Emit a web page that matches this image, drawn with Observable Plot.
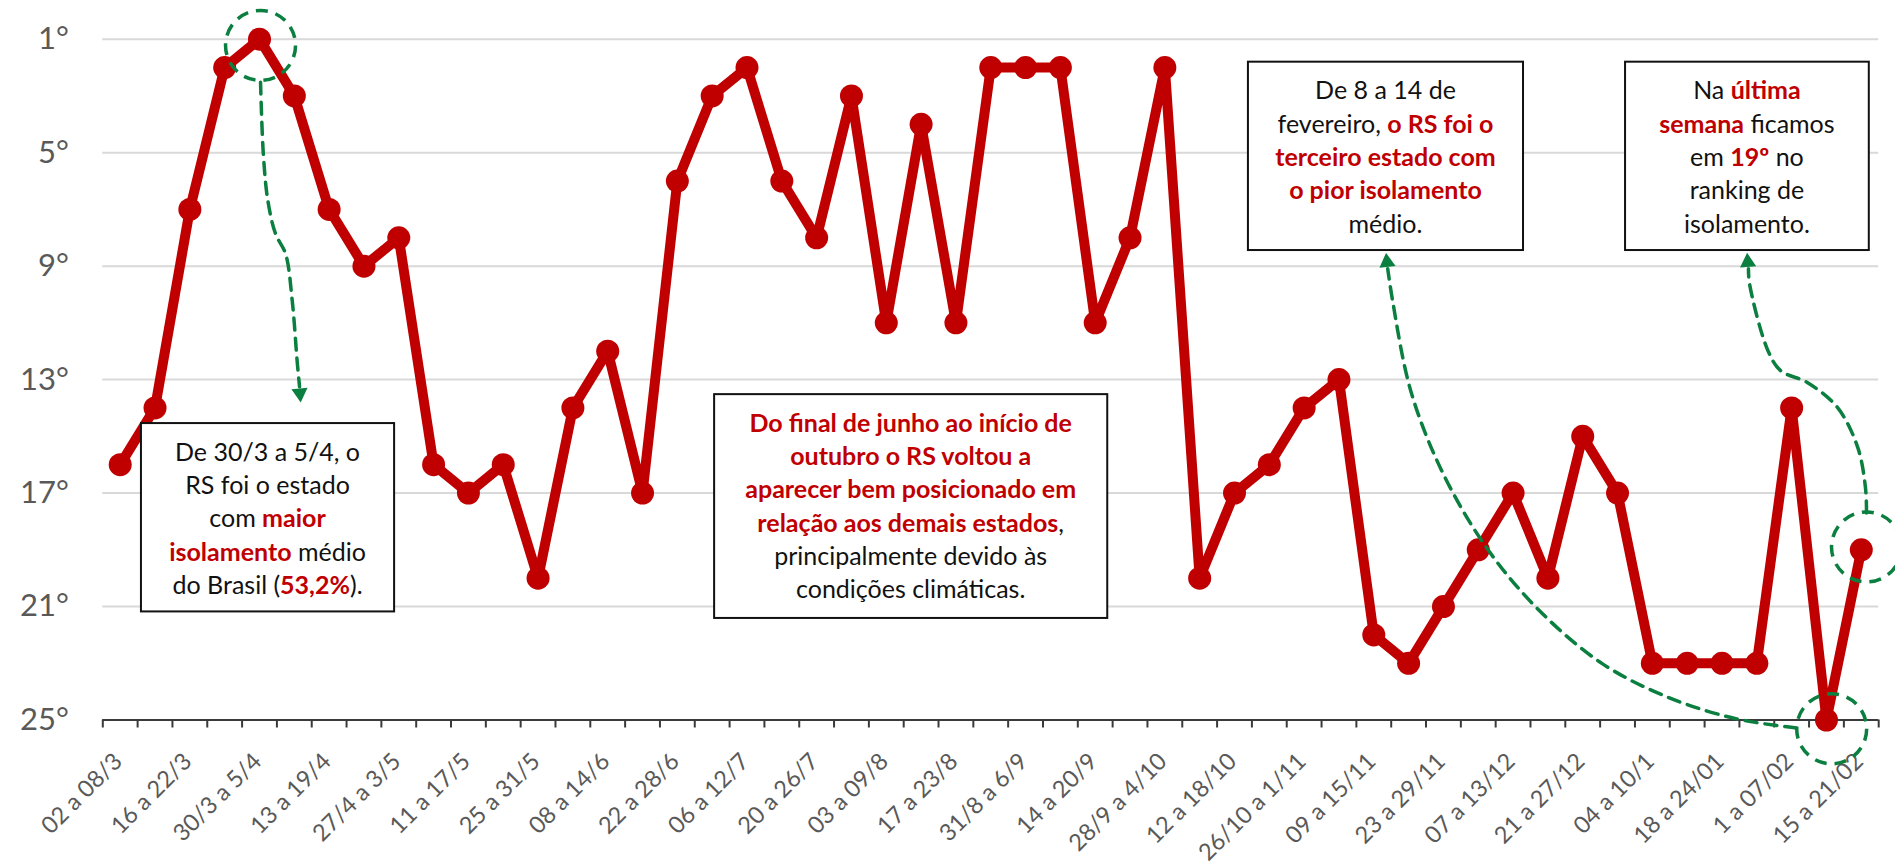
<!DOCTYPE html>
<html>
<head>
<meta charset="utf-8">
<script src="https://cdn.jsdelivr.net/npm/d3@7"></script>
<script src="https://cdn.jsdelivr.net/npm/@observablehq/plot@0.6"></script>
<style>
  html, body { margin: 0; padding: 0; background: #fff; }
  #chart svg { display: block; }
</style>
</head>
<body>
<div id="chart"></div>
<script>
// ---- data ----
const weeks = [
  "02 a 08/3", "09 a 15/3", "16 a 22/3", "23 a 29/3", "30/3 a 5/4", "06 a 12/4",
  "13 a 19/4", "20 a 26/4", "27/4 a 3/5", "04 a 10/5", "11 a 17/5", "18 a 24/5",
  "25 a 31/5", "01 a 07/6", "08 a 14/6", "15 a 21/6", "22 a 28/6", "29/6 a 5/7",
  "06 a 12/7", "13 a 19/7", "20 a 26/7", "27/7 a 2/8", "03 a 09/8", "10 a 16/8",
  "17 a 23/8", "24 a 30/8", "31/8 a 6/9", "07 a 13/9", "14 a 20/9", "21 a 27/9",
  "28/9 a 4/10", "05 a 11/10", "12 a 18/10", "19 a 25/10", "26/10 a 1/11", "02 a 08/11",
  "09 a 15/11", "16 a 22/11", "23 a 29/11", "30/11 a 6/12", "07 a 13/12", "14 a 20/12",
  "21 a 27/12", "28/12 a 3/1", "04 a 10/1", "11 a 17/1", "18 a 24/01", "25/01 a 31/01",
  "1 a 07/02", "08 a 14/02", "15 a 21/02"
];
const ranks = [
  16, 14, 7, 2, 1, 3, 7, 9, 8, 16, 17, 16, 20, 14, 12, 17, 6, 3, 2, 6, 8, 3, 11, 4, 11,
  2, 2, 2, 11, 8, 2, 20, 17, 16, 14, 13, 22, 23, 21, 19, 17, 20, 15, 17, 23, 23, 23, 23,
  14, 25, 19
];
const yTicks = [1, 5, 9, 13, 17, 21, 25];
const labeledWeeks = weeks.filter((w, i) => i % 2 === 0);

// ---- annotation anchors (in data units: week index, rank) ----
const circles = [
  {x: 4.03, y: 1.22},
  {x: 49.15, y: 25.31},
  {x: 50.15, y: 18.90}
];
const arrowLines = [
  {id: "a", x: 4.03, y: 2.52}, {id: "a", x: 4.11, y: 5.04}, {id: "a", x: 4.24, y: 6.69},
  {id: "a", x: 4.46, y: 7.86}, {id: "a", x: 4.75, y: 8.57}, {id: "a", x: 4.94, y: 10.22},
  {id: "a", x: 5.08, y: 12.33}, {id: "a", x: 5.15, y: 13.25},
  {id: "b", x: 48.14, y: 25.28}, {id: "b", x: 46.42, y: 24.96}, {id: "b", x: 44.49, y: 24.22},
  {id: "b", x: 42.57, y: 23.02}, {id: "b", x: 40.76, y: 21.15}, {id: "b", x: 39.24, y: 18.93},
  {id: "b", x: 37.95, y: 16.21}, {id: "b", x: 37.06, y: 13.39}, {id: "b", x: 36.54, y: 10.22},
  {id: "b", x: 36.40, y: 9.09},
  {id: "c", x: 50.15, y: 17.70}, {id: "c", x: 50.12, y: 16.81}, {id: "c", x: 49.90, y: 15.40},
  {id: "c", x: 49.32, y: 13.99}, {id: "c", x: 48.46, y: 13.11}, {id: "c", x: 47.69, y: 12.69},
  {id: "c", x: 47.32, y: 11.98}, {id: "c", x: 46.79, y: 9.62}, {id: "c", x: 46.76, y: 9.09}
];
const arrowHeads = [
  {x: 5.16, y: 13.48, rotate: 175},
  {x: 36.38, y: 8.86, rotate: -6},
  {x: 46.74, y: 8.86, rotate: -4}
];
const boxes = [
  {x0: 0.61, x1: 7.88, y0: 14.55, y1: 21.19, lines: [
    [["De 30/3 a 5/4, o"]],
    [["RS foi o estado"]],
    [["com "], ["maior", 1]],
    [["isolamento", 1], [" médio"]],
    [["do Brasil ("], ["53,2%", 1], [")."]]
  ]},
  {x0: 17.07, x1: 28.36, y0: 13.53, y1: 21.42, lines: [
    [["Do final de junho ao início de", 1]],
    [["outubro o RS voltou a", 1]],
    [["aparecer bem posicionado em", 1]],
    [["relação aos demais estados", 1], [","]],
    [["principalmente devido às"]],
    [["condições climáticas."]]
  ]},
  {x0: 32.40, x1: 40.30, y0: 1.81, y1: 8.45, lines: [
    [["De 8 a 14 de"]],
    [["fevereiro, "], ["o RS foi o", 1]],
    [["terceiro estado com", 1]],
    [["o pior isolamento", 1]],
    [["médio."]]
  ]},
  {x0: 43.23, x1: 50.23, y0: 1.81, y1: 8.45, lines: [
    [["Na "], ["última", 1]],
    [["semana", 1], [" ficamos"]],
    [["em "], ["19º", 1], [" no"]],
    [["ranking de"]],
    [["isolamento."]]
  ]}
];

// ---- chart ----
const RED = "#C00000";
const GREEN = "#0a7f3f";
const GRAY = "#595959";
const series = weeks.map((w, i) => ({i, week: w, rank: ranks[i]}));

const chart = Plot.plot({
  width: 1895,
  height: 865,
  marginLeft: 102.3,
  marginRight: 16.8,
  marginTop: 38.7,
  marginBottom: 145.5,
  x: {domain: [-0.5, weeks.length - 0.5], axis: null},
  y: {domain: [1, 25], reverse: true, axis: null},
  style: {fontFamily: "Lato, 'Open Sans', sans-serif", background: "white", overflow: "visible"},
  marks: [
    Plot.ruleY(yTicks.filter(t => t < 25), {stroke: "#d9d9d9", strokeWidth: 2}),
    Plot.ruleY([25], {stroke: "#3a3a3a", strokeWidth: 2}),
    Plot.ruleX(d3.range(weeks.length + 1).map(k => k - 0.5), {y1: 25, y2: 25 + 8 / 28.35, stroke: "#3a3a3a", strokeWidth: 2}),
    Plot.text(yTicks, {x: -0.5, y: d => d, text: d => d + "°", textAnchor: "end", dx: -34, fontSize: 31, fill: GRAY}),
    Plot.text(labeledWeeks, {x: d => weeks.indexOf(d), y: 25, text: d => d, rotate: -45, textAnchor: "end", dx: -2, dy: 37.5, fontSize: 23.5, fill: GRAY}),
    Plot.line(series, {x: "i", y: "rank", stroke: RED, strokeWidth: 10, strokeLinejoin: "round"}),
    Plot.dot(series, {x: "i", y: "rank", r: 11.5, fill: RED}),
    Plot.dot(circles, {x: "x", y: "y", r: 35, stroke: GREEN, strokeWidth: 3.5, strokeDasharray: "12,8", fill: "none"}),
    Plot.line(arrowLines, {x: "x", y: "y", z: "id", curve: "catmull-rom", stroke: GREEN, strokeWidth: 3.5, strokeDasharray: "12,8"}),
    Plot.dot(arrowHeads, {x: "x", y: "y", rotate: "rotate", symbol: "triangle", r: 6, fill: GREEN, stroke: "none"})
  ]
});

// ---- text boxes, positioned through the plot scales ----
const X = chart.scale("x"), Y = chart.scale("y");
const svg = d3.select(chart);
const g = svg.append("g").attr("font-family", "Lato, 'Open Sans', sans-serif").attr("font-size", 25);
boxes.forEach(b => {
  const x0 = X.apply(b.x0), x1 = X.apply(b.x1), y0 = Y.apply(b.y0), y1 = Y.apply(b.y1);
  g.append("rect").attr("x", x0).attr("y", y0).attr("width", x1 - x0).attr("height", y1 - y0)
    .attr("fill", "white").attr("stroke", "#111").attr("stroke-width", 2);
  const cx = (x0 + x1) / 2;
  b.lines.forEach((runs, k) => {
    const t = g.append("text").attr("x", cx).attr("y", y0 + 28.7 + 33.3 * k + 9)
      .attr("text-anchor", "middle").style("white-space", "pre");
    runs.forEach(([s, hi]) => {
      t.append("tspan").text(s).attr("fill", hi ? RED : "#111").attr("font-weight", hi ? 700 : 400);
    });
  });
});

document.getElementById("chart").appendChild(chart);
</script>
</body>
</html>
